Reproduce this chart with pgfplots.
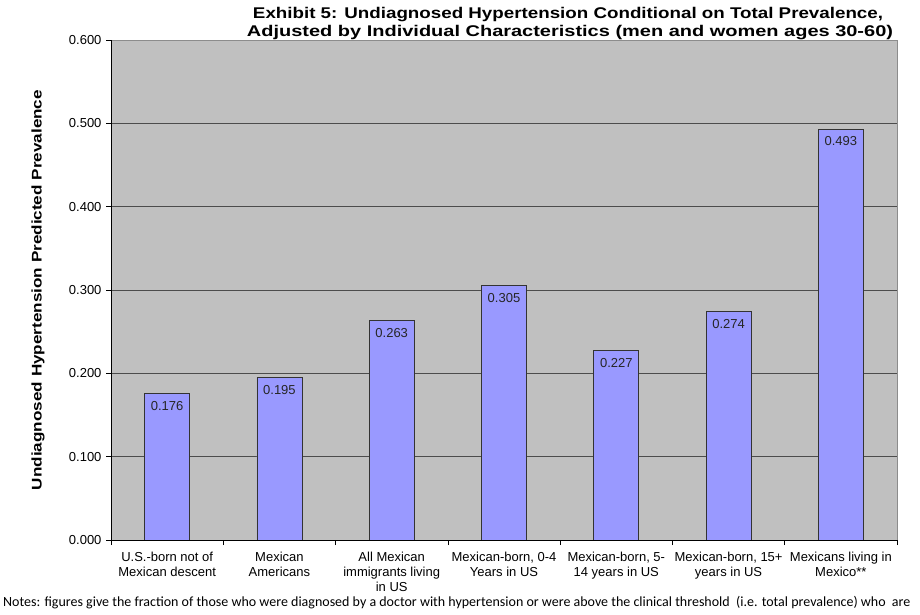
\documentclass[border=0pt]{standalone}
\usepackage{pgfplots}
\pgfplotsset{compat=1.18}
\usepackage{fontspec}
\setmainfont{Liberation Sans}
\newfontfamily\notefont{Carlito}
\definecolor{plotgray}{HTML}{C0C0C0}
\definecolor{barblue}{HTML}{9999FF}

\begin{document}
\begin{tikzpicture}[x=1pt,y=1pt]
\useasboundingbox (0,0) rectangle (920,614);
\begin{axis}[
  at={(111pt,74pt)}, anchor=south west,
  scale only axis, width=786pt, height=500pt,
  axis background/.style={fill=plotgray},
  axis line style={black!45, line width=0.7pt},
  xmin=-0.5, xmax=6.5, ymin=0, ymax=0.6,
  ytick={0,0.1,0.2,0.3,0.4,0.5,0.6},
  ymajorgrids, grid style={black!70, line width=0.6pt},
  tick align=outside, ytick pos=left, xtick pos=bottom,
  major tick length=5pt,
  tick style={black, line width=0.6pt},
  /pgf/number format/assume math mode=true,
  yticklabel style={/pgf/number format/fixed, /pgf/number format/fixed zerofill,
    /pgf/number format/precision=3, font=\fontsize{13}{15}\selectfont, xshift=-1pt},
  xtick={0,1,2,3,4,5,6},
  xticklabels={{U.S.-born not of\\Mexican descent},{Mexican\\Americans},
    {All Mexican\\immigrants living\\in US},{Mexican-born, 0-4\\Years in US},
    {Mexican-born, 5-\\14 years in US},{Mexican-born, 15+\\years in US},
    {Mexicans living in\\Mexico**}},
  xticklabel style={align=center, font=\fontsize{13}{15}\selectfont, yshift=-4pt},
  x tick style={draw=none},
  extra x ticks={-0.5,0.5,1.5,2.5,3.5,4.5,5.5,6.5},
  extra x tick labels={},
  extra x tick style={x tick style={draw=black}},
  ylabel={\resizebox{400pt}{\height}{\bfseries Undiagnosed Hypertension Predicted Prevalence}},
  ylabel style={font=\fontsize{14}{16}\selectfont, at={(axis description cs:-0.08,0.5)}},
]
\addplot[ybar, bar width=45pt, fill=barblue, draw=black!80, line width=0.8pt,
  nodes near coords,
  every node near coord/.append style={anchor=north, yshift=-4pt, black!85,
    font=\fontsize{13}{15}\selectfont,
    /pgf/number format/fixed, /pgf/number format/fixed zerofill,
    /pgf/number format/precision=3}]
  coordinates {(0,0.176) (1,0.195) (2,0.263) (3,0.305) (4,0.227) (5,0.274) (6,0.493)};
\draw[black, line width=0.8pt] (rel axis cs:0,1) -- (rel axis cs:0,0) -- (rel axis cs:1,0);
\end{axis}
\node[anchor=base, inner sep=0pt, font=\fontsize{15.5}{18}\selectfont\bfseries] at (568,595)
  {\resizebox{630pt}{\height}{Exhibit 5: Undiagnosed Hypertension Conditional on Total Prevalence,}};
\node[anchor=base, inner sep=0pt, font=\fontsize{15.5}{18}\selectfont\bfseries] at (570,577)
  {\resizebox{646pt}{\height}{Adjusted by Individual Characteristics\ (men and women ages 30-60)}};
\node[anchor=base west, inner sep=0pt, font=\notefont\fontsize{14}{16}\selectfont] at (3,8)
  {Notes: figures give the fraction of those who were diagnosed by a doctor with hypertension or were above the clinical threshold\ \ (i.e. total prevalence) who\ \ are};
\end{tikzpicture}
\end{document}
